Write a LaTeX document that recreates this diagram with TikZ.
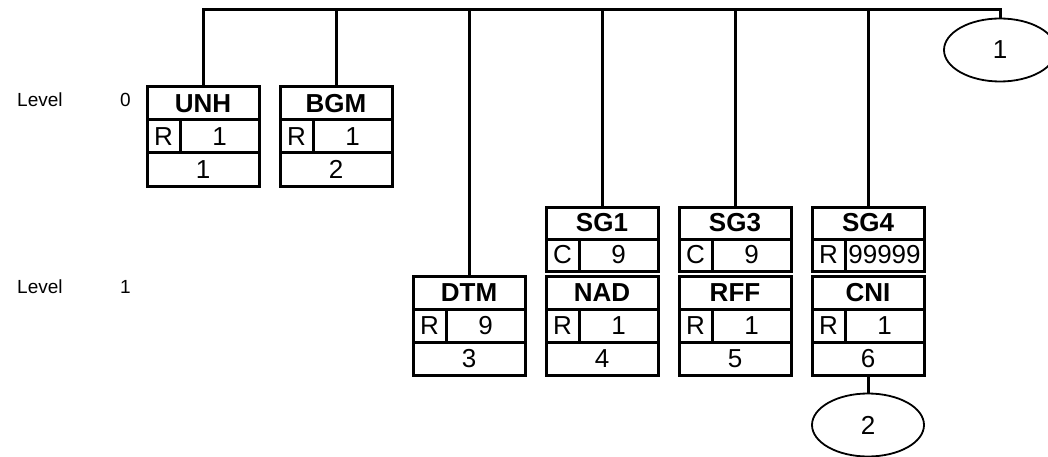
\documentclass[tikz,border=0pt]{standalone}
\usepackage{fontspec}
\setmainfont{Liberation Sans}
\usetikzlibrary{shapes.geometric}

\begin{document}
\begin{tikzpicture}[x=1pt,y=-1pt,
    cell/.style={draw, line width=3pt, inner sep=0pt, outer sep=0pt,
      anchor=north west, minimum height=33pt, font=\fontsize{26}{26}\selectfont},
    seg/.style={cell, minimum width=112pt, font=\fontsize{26}{26}\selectfont\bfseries},
    st/.style={cell, minimum width=33pt},
    rep/.style={cell, minimum width=79pt},
    posbox/.style={cell, minimum width=112pt},
    grp/.style={minimum height=32pt},
    lvl/.style={inner sep=0pt, anchor=west, font=\fontsize{19}{19}\selectfont},
    conn/.style={ellipse, draw, line width=1.8pt, minimum width=112pt,
      minimum height=63pt, inner sep=0pt, font=\fontsize{26}{26}\selectfont},
    wire/.style={line width=3pt}]
    \useasboundingbox (0,0) rectangle (1048,457);

    % levels
    \node[lvl] (lev0) at (17,100) {Level};
    \node[lvl] (num0) at (120,100) {0};
    \node[lvl] (lev1) at (17,287) {Level};
    \node[lvl] (num1) at (120,287) {1};

    % level 0
    \node[seg] (unh) at (147,87) {UNH};
    \node[st] (unhR) at (147,120) {R};
    \node[rep] (unhM) at (180,120) {1};
    \node[posbox] (unhP) at (147,153) {1};

    \node[seg] (bgm) at (280,87) {BGM};
    \node[st] (bgmR) at (280,120) {R};
    \node[rep] (bgmM) at (313,120) {1};
    \node[posbox] (bgmP) at (280,153) {2};

    % level 1
    \node[seg] (dtm) at (413,276) {DTM};
    \node[st] (dtmR) at (413,309) {R};
    \node[rep] (dtmM) at (446,309) {9};
    \node[posbox] (dtmP) at (413,342) {3};

    \node[seg,grp] (sg1) at (546,207) {SG1};
    \node[st,grp] (sg1C) at (546,239) {C};
    \node[rep,grp] (sg1M) at (579,239) {9};
    \node[seg] (nad) at (546,276) {NAD};
    \node[st] (nadR) at (546,309) {R};
    \node[rep] (nadM) at (579,309) {1};
    \node[posbox] (nadP) at (546,342) {4};

    \node[seg,grp] (sg3) at (679,207) {SG3};
    \node[st,grp] (sg3C) at (679,239) {C};
    \node[rep,grp] (sg3M) at (712,239) {9};
    \node[seg] (rff) at (679,276) {RFF};
    \node[st] (rffR) at (679,309) {R};
    \node[rep] (rffM) at (712,309) {1};
    \node[posbox] (rffP) at (679,342) {5};

    \node[seg,grp] (sg4) at (812,207) {SG4};
    \node[st,grp] (sg4R) at (812,239) {R};
    \node[rep,grp] (sg4M) at (845,239) {99999};
    \node[seg] (cni) at (812,276) {CNI};
    \node[st] (cniR) at (812,309) {R};
    \node[rep] (cniM) at (845,309) {1};
    \node[posbox] (cniP) at (812,342) {6};

    % connectors
    \node[conn] (c1) at (1000,50) {1};
    \node[conn] (c2) at (868,425) {2};
    \coordinate (top) at (1000,10);

    \draw[wire] (unh.north) |- (top) -- (c1.north);
    \draw[wire] (bgm.north) -- (bgm.north |- top);
    \draw[wire] (dtm.north) -- (dtm.north |- top);
    \draw[wire] (sg1.north) -- (sg1.north |- top);
    \draw[wire] (sg3.north) -- (sg3.north |- top);
    \draw[wire] (sg4.north) -- (sg4.north |- top);
    \draw[wire] (cniP.south) -- (c2.north);
  \end{tikzpicture}
\end{document}
